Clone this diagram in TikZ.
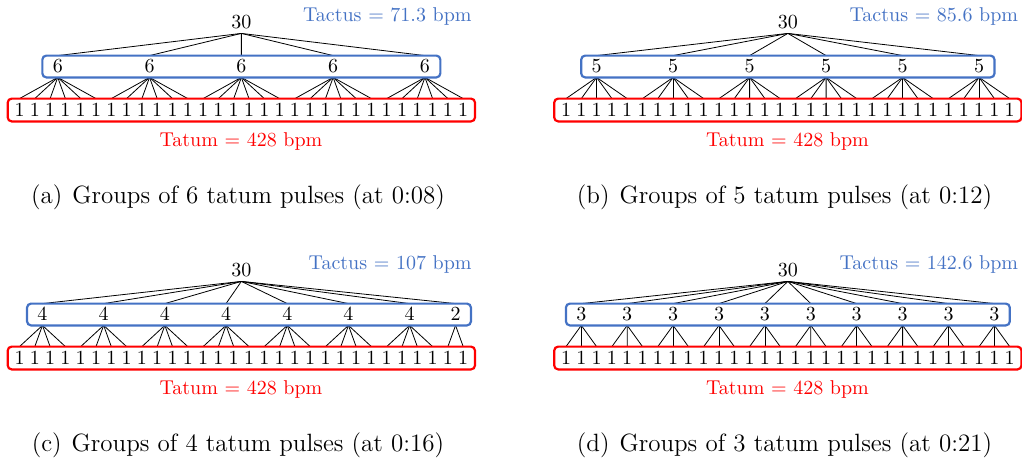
\documentclass[tikz,border=0pt]{standalone}
\usetikzlibrary{fit,calc}
\definecolor{tactblue}{RGB}{68,114,196}
\tikzset{
  pulse/.style={inner sep=0pt,text height=8.7pt,text depth=2.3pt,minimum width=5pt},
  beat/.style={inner sep=0pt,text height=8.45pt,text depth=2.05pt},
  tactbox/.style={draw=tactblue,line width=1.1pt,rounded corners=2pt,inner xsep=5pt,inner ysep=0pt},
  tatbox/.style={draw=red,line width=1.1pt,rounded corners=2pt,inner xsep=3.2pt,inner ysep=0pt},
  tree/.style={line width=0.4pt}
}
\begin{document}
\begin{tikzpicture}[x=0.5pt,y=-0.5pt]
\useasboundingbox (0,0) rectangle (1022,461);
% one panel per tactus grouping: name/x/y/group size/groups/bpm/time
\foreach \p/\ox/\oy/\m/\ng/\tac/\at in {a/0/0/6/5/71.3/0:08,b/546.5/0/5/6/85.6/0:12,c/0/248/4/8/107/0:16,d/546.5/248/3/10/142.6/0:21}{
  \foreach \i in {1,...,30}{\node[pulse] (\p-\i) at (\ox+19.5+\i*15.3-15.3,\oy+110) {1};}
  \node[beat] (\p-top) at (\ox+241.35,\oy+22.5) {30};
  \foreach \k in {1,...,\ng}{
    \pgfmathtruncatemacro\s{(\k-1)*\m+1}\pgfmathtruncatemacro\e{min(\k*\m,30)}\pgfmathtruncatemacro\w{\e-\s+1}
    \node[beat] (\p-g\k) at ($(\p-\s)!0.5!(\p-\e)+(0,-43.5)$) {\w};
    \draw[tree] (\p-top.south) -- (\p-g\k.north);
    \foreach \j in {\s,...,\e}{\draw[tree] (\p-g\k.south) -- (\p-\j.north);}
  }
  \node[tactbox,fit=(\p-g1)(\p-g\ng)] (\p-tactus) {};
  \node[tatbox,fit=(\p-1)(\p-30)] (\p-tatum) {};
  \node[anchor=east,inner sep=0pt,text=tactblue] (\p-tlab) at (\ox+472,\oy+16) {Tactus $=$ \tac\ bpm};
  \node[text=red] (\p-blab) at (\ox+241,\oy+141) {Tatum $=$ 428 bpm};
  \node[font=\fontsize{12.5}{15}\selectfont] (\p-cap) at (\ox+238,\oy+197) {(\p)\hspace{5pt}Groups of \m\ tatum pulses (at \at)};
}
\end{tikzpicture}
\end{document}
